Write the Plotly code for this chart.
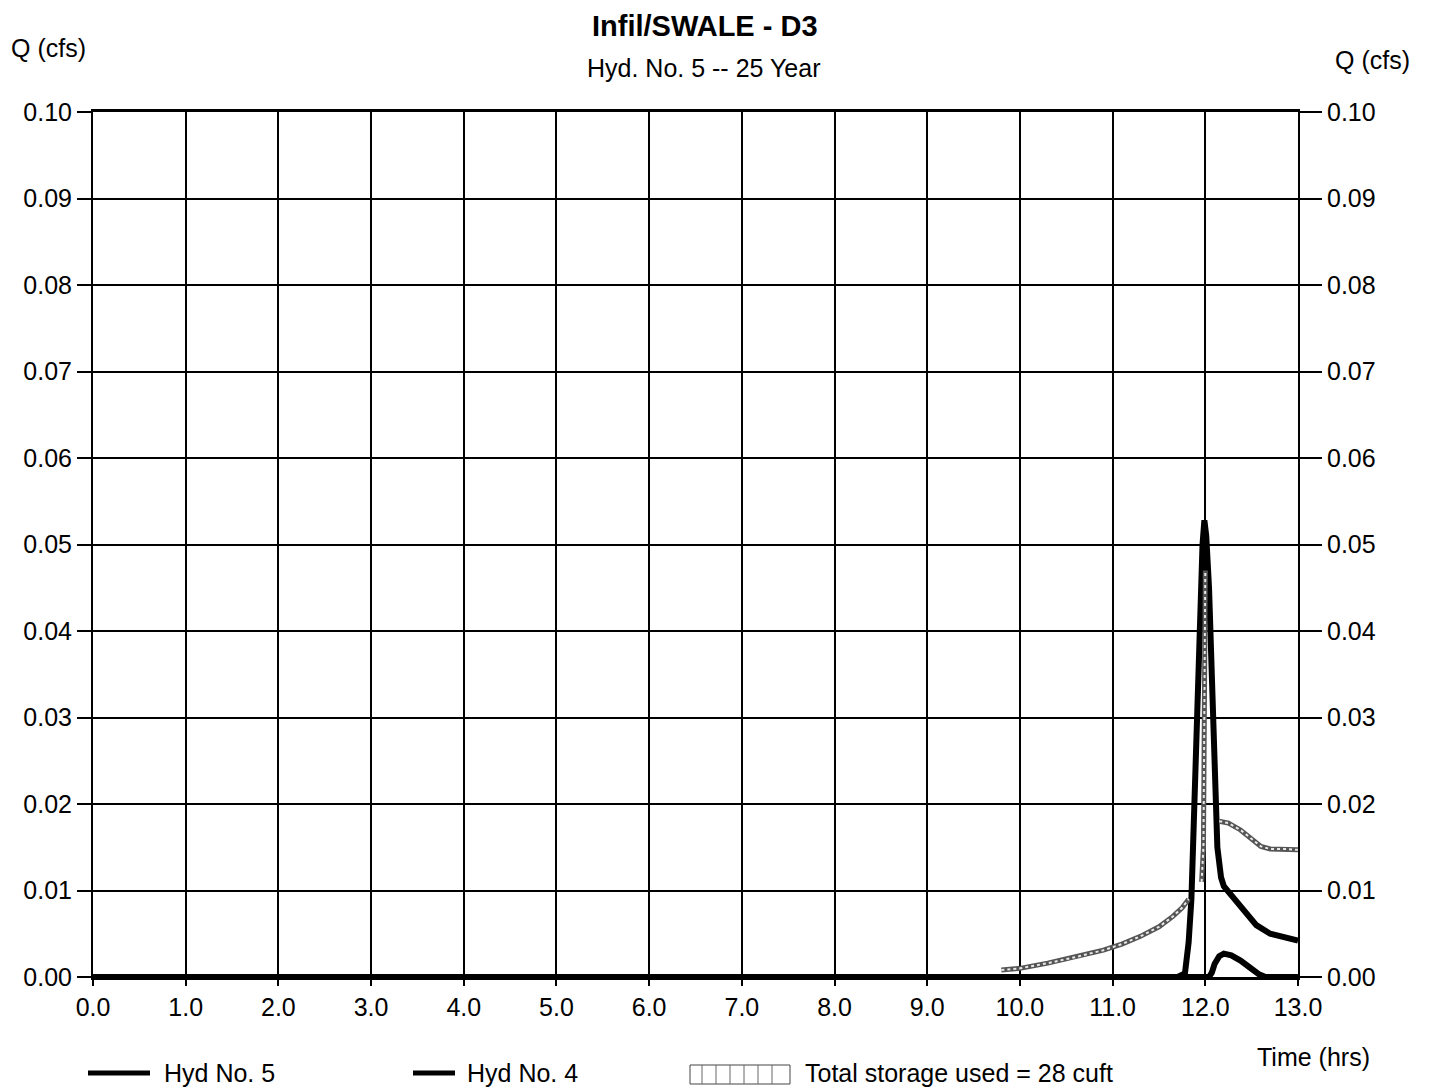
import plotly.graph_objects as go

# ---- data ----
x_ticks = [0, 1, 2, 3, 4, 5, 6, 7, 8, 9, 10, 11, 12, 13]
y_ticks = [0.00, 0.01, 0.02, 0.03, 0.04, 0.05, 0.06, 0.07, 0.08, 0.09, 0.10]

hyd4_t = [0.0, 11.70, 11.78, 11.82, 11.85, 11.88, 11.91, 11.94, 11.97, 11.99, 12.01, 12.04,
          12.07, 12.10, 12.13, 12.17, 12.20, 12.30, 12.45, 12.55, 12.70, 12.85, 13.0]
hyd4_q = [0.0, 0.0, 0.0004, 0.004, 0.009, 0.019, 0.030, 0.042, 0.050, 0.0528, 0.051, 0.045,
          0.033, 0.022, 0.015, 0.0115, 0.0105, 0.0092, 0.0072, 0.0060, 0.0050, 0.0046, 0.0042]

hyd5_t = [0.0, 12.04, 12.07, 12.10, 12.15, 12.20, 12.28, 12.38, 12.48, 12.58, 12.65, 13.0]
hyd5_q = [0.0, 0.0, 0.0005, 0.0015, 0.0024, 0.0027, 0.0025, 0.0019, 0.0011, 0.0003, 0.0, 0.0]

stor_t = [9.80, 10.0, 10.3, 10.6, 10.9, 11.1, 11.3, 11.5, 11.65, 11.75, 11.82, None,
          11.96, 11.98, 12.0, None,
          12.15, 12.25, 12.38, 12.50, 12.60, 12.70, 12.85, 13.0]
stor_q = [0.0008, 0.0010, 0.0016, 0.0023, 0.0031, 0.0038, 0.0047, 0.0058, 0.0070, 0.0080, 0.0090, None,
          0.011, 0.015, 0.047, None,
          0.0180, 0.0178, 0.0170, 0.0160, 0.0151, 0.0148, 0.0148, 0.0147]

FONT = "Liberation Sans, Arial, sans-serif"
FS = 25

fig = go.Figure()
fig.add_trace(go.Scatter(x=hyd4_t, y=hyd4_q, mode="lines", name="Hyd No. 4",
                         line=dict(color="black", width=6), showlegend=False))
fig.add_trace(go.Scatter(x=hyd5_t, y=hyd5_q, mode="lines", name="Hyd No. 5",
                         line=dict(color="black", width=6), showlegend=False))
fig.add_trace(go.Scatter(x=stor_t, y=stor_q, mode="lines", name="Storage",
                         line=dict(color="#555555", width=5), showlegend=False))
fig.add_trace(go.Scatter(x=stor_t, y=stor_q, mode="lines", name="Storage hatch",
                         line=dict(color="#e8e8e8", width=2, dash="dot"), showlegend=False))
# invisible trace to activate right axis
fig.add_trace(go.Scatter(x=[0], y=[0], yaxis="y2", mode="lines",
                         line=dict(width=0), showlegend=False, hoverinfo="skip"))

tickfont = dict(family=FONT, size=FS, color="black")

fig.update_layout(
    width=1421, height=1083,
    paper_bgcolor="white", plot_bgcolor="white",
    margin=dict(l=85, r=131, t=104, b=114),
    showlegend=False,
    xaxis=dict(range=[0, 13], tickvals=x_ticks, tickformat=".1f", showgrid=True,
               showline=True, linecolor="black", linewidth=3, mirror=True,
               gridcolor="black", gridwidth=2, zeroline=False,
               ticks="outside", ticklen=6, tickwidth=2, tickcolor="black",
               tickfont=tickfont),
    yaxis=dict(range=[0, 0.10], tickvals=y_ticks, tickformat=".2f", showgrid=True,
               showline=True, linecolor="black", linewidth=2,
               gridcolor="black", gridwidth=2, zeroline=False,
               ticks="outside", ticklen=14, tickwidth=2, tickcolor="black",
               tickfont=tickfont),
    yaxis2=dict(range=[0, 0.10], tickvals=y_ticks, tickformat=".2f", overlaying="y",
                side="right", showgrid=False, showline=True, linecolor="black", linewidth=2,
                ticks="outside", ticklen=22, tickwidth=2, tickcolor="black", zeroline=False,
                tickfont=tickfont),
)

# helpers: page pixel -> paper coords (plot area spans page x 93..1298, y 112..977)
def px_x(p):
    return (p - 93) / 1205.0

def px_y(p):
    return (977 - p) / 865.0

ann = [
    dict(text="<b>Infil/SWALE - D3</b>", x=px_x(705), y=px_y(26), size=29),
    dict(text="Hyd. No. 5 -- 25 Year", x=px_x(703), y=px_y(68), size=FS),
    dict(text="Q (cfs)", x=px_x(48), y=px_y(48), size=FS),
    dict(text="Q (cfs)", x=px_x(1372), y=px_y(60), size=FS),
    dict(text="Time (hrs)", x=px_x(1313), y=px_y(1057), size=FS),
]
for a in ann:
    fig.add_annotation(text=a["text"], x=a["x"], y=a["y"], xref="paper", yref="paper",
                       showarrow=False, xanchor="center", yanchor="middle",
                       font=dict(family=FONT, size=a["size"], color="black"))

# manual legend
ly = px_y(1073)
fig.add_shape(type="line", xref="paper", yref="paper", x0=px_x(88), x1=px_x(150), y0=ly, y1=ly,
              line=dict(color="black", width=5))
fig.add_annotation(text="Hyd No. 5", x=px_x(162), y=ly, xref="paper", yref="paper",
                   showarrow=False, xanchor="left", yanchor="middle",
                   font=dict(family=FONT, size=FS, color="black"))
fig.add_shape(type="line", xref="paper", yref="paper", x0=px_x(413), x1=px_x(455), y0=ly, y1=ly,
              line=dict(color="black", width=5))
fig.add_annotation(text="Hyd No. 4", x=px_x(465), y=ly, xref="paper", yref="paper",
                   showarrow=False, xanchor="left", yanchor="middle",
                   font=dict(family=FONT, size=FS, color="black"))
fig.add_shape(type="rect", xref="paper", yref="paper", x0=px_x(690), x1=px_x(790),
              y0=px_y(1084), y1=px_y(1065), line=dict(color="#444", width=1))
for hx in [702, 716, 730, 744, 758, 772]:
    fig.add_shape(type="line", xref="paper", yref="paper", x0=px_x(hx), x1=px_x(hx),
                  y0=px_y(1084), y1=px_y(1065), line=dict(color="#666", width=1))
fig.add_annotation(text="Total storage used = 28 cuft", x=px_x(803), y=ly, xref="paper", yref="paper",
                   showarrow=False, xanchor="left", yanchor="middle",
                   font=dict(family=FONT, size=FS, color="black"))

fig.write_html("out.html")
